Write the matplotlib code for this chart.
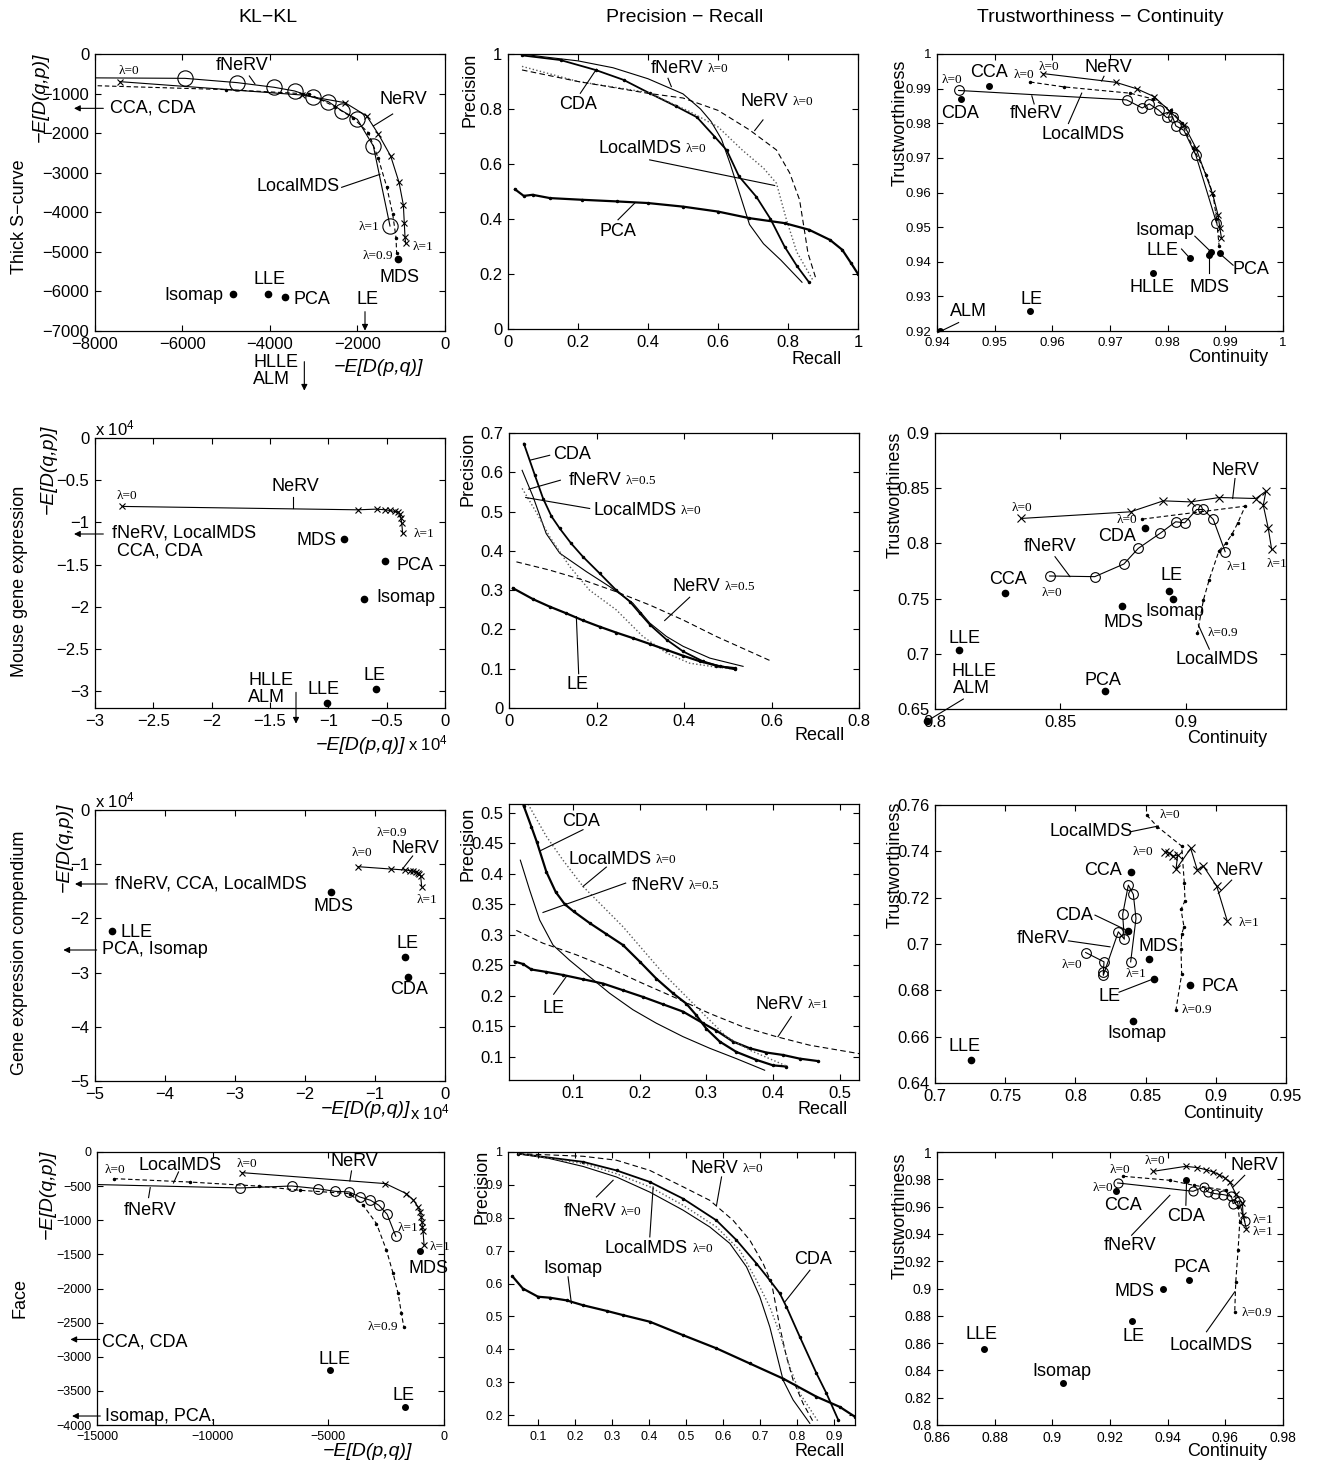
import numpy as np
import matplotlib.pyplot as plt

SANS = ['Liberation Sans', 'DejaVu Sans']
SERIF = ['Liberation Serif', 'DejaVu Serif']
plt.rcParams['font.family'] = SANS
plt.rcParams['mathtext.fontset'] = 'custom'
plt.rcParams['mathtext.rm'] = 'Liberation Sans'
plt.rcParams['mathtext.it'] = 'Liberation Sans:italic'

# ------------------------------------------------------------
# Thick S-curve
# ------------------------------------------------------------
# KL-KL: x = -E[D(p,q)], y = -E[D(q,p)]
s_kl_fnerv_x = [-8600, -5943, -4747, -3901, -3436, -3010, -2667, -2362, -2004, -1638, -1257]
s_kl_fnerv_y = [-600, -615, -724, -842, -935, -1095, -1205, -1432, -1651, -2325, -4347]
s_kl_nerv_x = [-7429, -3276, -2286, -1790, -1524, -1242, -1051, -952, -930, -914, -899]
s_kl_nerv_y = [-699, -1036, -1230, -1567, -2022, -2578, -3243, -3816, -4279, -4633, -4785]
s_kl_lmds_x = [-8600, -5000, -3100, -2520, -2100, -1750, -1524, -1333, -1196, -1120, -1105]
s_kl_lmds_y = [-780, -900, -1010, -1330, -1620, -1990, -2640, -3350, -4040, -4640, -5040]
s_kl_dot_x = [-4838, -4053, -3657, -1067]          # Isomap, LLE, PCA, MDS
s_kl_dot_y = [-6065, -6065, -6150, -5189]

# precision - recall
s_pr_fnerv_r = [0.04, 0.1, 0.2, 0.3, 0.4, 0.5, 0.55, 0.58, 0.61, 0.635, 0.66, 0.69, 0.73, 0.78, 0.84]
s_pr_fnerv_p = [1.0, 0.99, 0.975, 0.95, 0.91, 0.855, 0.80, 0.755, 0.69, 0.6, 0.5, 0.38, 0.31, 0.25, 0.17]
s_pr_cda_r = [0.04, 0.15, 0.25, 0.33, 0.405, 0.48, 0.54, 0.59, 0.625, 0.66, 0.71, 0.75, 0.79, 0.825, 0.86]
s_pr_cda_p = [0.995, 0.978, 0.942, 0.906, 0.857, 0.81, 0.77, 0.70, 0.65, 0.555, 0.48, 0.40, 0.30, 0.23, 0.17]
s_pr_lmds_r = [0.04, 0.2, 0.3, 0.4, 0.52, 0.6, 0.67, 0.73, 0.767, 0.795, 0.825, 0.87]
s_pr_lmds_p = [0.955, 0.9, 0.88, 0.86, 0.79, 0.735, 0.65, 0.585, 0.53, 0.40, 0.28, 0.18]
s_pr_nerv_r = [0.04, 0.2, 0.4, 0.5, 0.6, 0.69, 0.767, 0.805, 0.833, 0.848, 0.857, 0.88]
s_pr_nerv_p = [0.942, 0.9, 0.857, 0.84, 0.795, 0.724, 0.651, 0.567, 0.47, 0.35, 0.276, 0.182]
s_pr_pca_r = [0.02, 0.045, 0.07, 0.12, 0.21, 0.31, 0.4, 0.5, 0.6, 0.69, 0.79, 0.86, 0.92, 0.955, 0.98, 1.0]
s_pr_pca_p = [0.508, 0.484, 0.488, 0.476, 0.47, 0.464, 0.458, 0.445, 0.427, 0.403, 0.385, 0.361, 0.324, 0.288, 0.24, 0.2]

# trustworthiness - continuity
s_tc_fnerv_c = [0.94375, 0.97289, 0.97560, 0.97681, 0.97842, 0.97981, 0.98085, 0.98142, 0.98281, 0.98489, 0.98846]
s_tc_fnerv_t = [0.98947, 0.98674, 0.98441, 0.98558, 0.98382, 0.98168, 0.98187, 0.97924, 0.97797, 0.97076, 0.95127]
s_tc_nerv_c = [0.95835, 0.97104, 0.97462, 0.97762, 0.98027, 0.98281, 0.98489, 0.98777, 0.98875, 0.98904, 0.98933]
s_tc_nerv_t = [0.99435, 0.99181, 0.98996, 0.98772, 0.98363, 0.97953, 0.97290, 0.95975, 0.95341, 0.94981, 0.94688]
s_tc_lmds_c = [0.95615, 0.962, 0.97346, 0.9775, 0.9805, 0.98241, 0.98442, 0.98673, 0.98789, 0.98846, 0.98892]
s_tc_lmds_t = [0.99191, 0.9905, 0.98869, 0.9870, 0.9838, 0.98021, 0.97290, 0.96511, 0.95926, 0.95244, 0.94464]
# CCA, CDA, LLE, HLLE, LE, ALM, Isomap, MDS, PCA
s_tc_dot_c = [0.94894, 0.94415, 0.98385, 0.97739, 0.95615, 0.94058, 0.98760, 0.98719, 0.98904]
s_tc_dot_t = [0.99074, 0.98704, 0.94094, 0.93684, 0.92583, 0.9200, 0.94269, 0.94191, 0.94240]

# ------------------------------------------------------------
# Mouse gene expression (KL values in units of 1e4)
# ------------------------------------------------------------
m_kl_nerv_x = [-2.766, -0.749, -0.586, -0.514, -0.471, -0.429, -0.40, -0.386, -0.377, -0.371, -0.363]
m_kl_nerv_y = [-0.811, -0.851, -0.843, -0.851, -0.859, -0.871, -0.879, -0.902, -0.95, -1.009, -1.128]
m_kl_dot_x = [-0.863, -0.514, -0.694, -0.594, -1.009]     # MDS, PCA, Isomap, LE, LLE
m_kl_dot_y = [-1.195, -1.456, -1.907, -2.98, -3.146]

m_pr_cda_r = [0.034, 0.059, 0.078, 0.097, 0.116, 0.142, 0.169, 0.207, 0.245, 0.276, 0.299, 0.322, 0.36, 0.398, 0.443, 0.482, 0.516]
m_pr_cda_p = [0.673, 0.593, 0.533, 0.488, 0.457, 0.419, 0.385, 0.343, 0.30, 0.271, 0.241, 0.212, 0.174, 0.144, 0.119, 0.106, 0.102]
m_pr_fnerv_r = [0.03, 0.055, 0.085, 0.116, 0.177, 0.23, 0.283, 0.322, 0.36, 0.398, 0.459, 0.535]
m_pr_fnerv_p = [0.605, 0.538, 0.444, 0.394, 0.347, 0.309, 0.267, 0.216, 0.182, 0.157, 0.127, 0.106]
m_pr_lmds_r = [0.03, 0.062, 0.093, 0.139, 0.184, 0.245, 0.306, 0.36, 0.413, 0.474, 0.516]
m_pr_lmds_p = [0.559, 0.499, 0.436, 0.36, 0.30, 0.25, 0.182, 0.14, 0.114, 0.104, 0.099]
m_pr_nerv_r = [0.017, 0.093, 0.169, 0.245, 0.322, 0.398, 0.474, 0.55, 0.596]
m_pr_nerv_p = [0.372, 0.351, 0.326, 0.296, 0.262, 0.224, 0.182, 0.144, 0.121]
m_pr_le_r = [0.009, 0.055, 0.093, 0.131, 0.169, 0.207, 0.245, 0.283, 0.322, 0.36, 0.398, 0.436, 0.474, 0.516]
m_pr_le_p = [0.305, 0.277, 0.258, 0.241, 0.223, 0.207, 0.192, 0.178, 0.163, 0.148, 0.133, 0.119, 0.108, 0.099]

m_tc_nerv_c = [0.83427, 0.878, 0.89107, 0.902, 0.91333, 0.928, 0.932, 0.93093, 0.93293, 0.93427]
m_tc_nerv_t = [0.82259, 0.82861, 0.83855, 0.8376, 0.84157, 0.84066, 0.84729, 0.83464, 0.81355, 0.79458]
m_tc_fnerv_c = [0.84573, 0.86373, 0.87533, 0.88107, 0.88973, 0.896, 0.8996, 0.9044, 0.90707, 0.911, 0.91573]
m_tc_fnerv_t = [0.77048, 0.76988, 0.78133, 0.79548, 0.80904, 0.81958, 0.81867, 0.83072, 0.83072, 0.82169, 0.79247]
m_tc_lmds_c = [0.88267, 0.92373, 0.92067, 0.9185, 0.916, 0.9133, 0.90933, 0.90707, 0.90467]
m_tc_lmds_t = [0.82199, 0.83373, 0.81807, 0.8085, 0.80, 0.7935, 0.76687, 0.7488, 0.71867]
# CDA, CCA, LE, Isomap, MDS, LLE, PCA, HLLE/ALM
m_tc_dot_c = [0.8836, 0.828, 0.89333, 0.89507, 0.87467, 0.8096, 0.868, 0.7967]
m_tc_dot_t = [0.81416, 0.75482, 0.75723, 0.7497, 0.74337, 0.703, 0.66596, 0.6389]

# ------------------------------------------------------------
# Gene expression compendium (KL values in units of 1e4)
# ------------------------------------------------------------
c_kl_nerv_x = [-1.238, -0.776, -0.571, -0.5, -0.452, -0.414, -0.39, -0.367, -0.348, -0.333]
c_kl_nerv_y = [-1.046, -1.089, -1.107, -1.119, -1.132, -1.15, -1.168, -1.187, -1.218, -1.415]
c_kl_dot_x = [-1.633, -4.762, -0.571, -0.524]     # MDS, LLE, LE, CDA
c_kl_dot_y = [-1.519, -2.226, -2.718, -3.075]

c_pr_cda_r = [0.026, 0.0375, 0.046, 0.06, 0.074, 0.0875, 0.101, 0.125, 0.15, 0.175, 0.2, 0.225, 0.25, 0.27, 0.285, 0.3, 0.32, 0.345, 0.375, 0.4, 0.42]
c_pr_cda_p = [0.511, 0.477, 0.451, 0.403, 0.37, 0.35, 0.338, 0.319, 0.301, 0.283, 0.256, 0.228, 0.204, 0.187, 0.168, 0.146, 0.125, 0.108, 0.095, 0.086, 0.084]
c_pr_le_r = [0.0125, 0.025, 0.0375, 0.06, 0.085, 0.115, 0.145, 0.175, 0.205, 0.235, 0.265, 0.295, 0.315, 0.34, 0.365, 0.39, 0.415, 0.44, 0.4675]
c_pr_le_p = [0.256, 0.252, 0.243, 0.239, 0.234, 0.227, 0.22, 0.209, 0.198, 0.186, 0.174, 0.155, 0.143, 0.125, 0.114, 0.107, 0.103, 0.097, 0.093]
c_pr_fnerv_r = [0.021, 0.035, 0.05, 0.07, 0.095, 0.125, 0.155, 0.19, 0.225, 0.265, 0.305, 0.345, 0.3875]
c_pr_fnerv_p = [0.422, 0.373, 0.324, 0.283, 0.258, 0.231, 0.204, 0.177, 0.155, 0.133, 0.114, 0.097, 0.078]
c_pr_lmds_r = [0.025, 0.0325, 0.06, 0.085, 0.115, 0.145, 0.175, 0.205, 0.235, 0.265, 0.295, 0.33, 0.365, 0.42]
c_pr_lmds_p = [0.53, 0.514, 0.461, 0.422, 0.379, 0.346, 0.313, 0.275, 0.237, 0.204, 0.171, 0.133, 0.111, 0.085]
c_pr_nerv_r = [0.015, 0.055, 0.105, 0.155, 0.205, 0.255, 0.305, 0.355, 0.405, 0.455, 0.53]
c_pr_nerv_p = [0.307, 0.286, 0.267, 0.245, 0.22, 0.196, 0.171, 0.149, 0.133, 0.119, 0.105]

c_tc_nerv_c = [0.86382, 0.8669, 0.86975, 0.87284, 0.87165, 0.8821, 0.88685, 0.89112, 0.90062, 0.90821]
c_tc_nerv_t = [0.73983, 0.73911, 0.73796, 0.73839, 0.7322, 0.74127, 0.73191, 0.73364, 0.7250, 0.70987]
c_tc_fnerv_c = [0.80731, 0.82037, 0.8199, 0.8199, 0.83058, 0.83485, 0.83366, 0.8377, 0.84126, 0.84316, 0.83936]
c_tc_fnerv_t = [0.69633, 0.6923, 0.68797, 0.68653, 0.70526, 0.70209, 0.71275, 0.72543, 0.72139, 0.71102, 0.6923]
c_tc_lmds_c = [0.85076, 0.8583, 0.87569, 0.87759, 0.87806, 0.87521, 0.87735, 0.87569, 0.87521, 0.87569, 0.87165]
c_tc_lmds_t = [0.75568, 0.7507, 0.74228, 0.72615, 0.71866, 0.71491, 0.70742, 0.70425, 0.69763, 0.68697, 0.6717]
# CCA, CDA, MDS, LE, PCA, Isomap, LLE
c_tc_dot_c = [0.83936, 0.8377, 0.85266, 0.856, 0.88162, 0.84079, 0.7254]
c_tc_dot_t = [0.73119, 0.70569, 0.69331, 0.68509, 0.68221, 0.66665, 0.65009]

# ------------------------------------------------------------
# Face
# ------------------------------------------------------------
f_kl_nerv_x = [-8744, -2531, -1625, -1337, -1121, -1020, -977, -949, -934, -906, -862]
f_kl_nerv_y = [-302, -463, -610, -698, -805, -878, -951, -1024, -1098, -1156, -1366]
f_kl_fnerv_x = [-15500, -8815, -6586, -5464, -4716, -4098, -3638, -3178, -2818, -2459, -2085]
f_kl_fnerv_y = [-473, -527, -498, -537, -576, -585, -659, -707, -780, -912, -1234]
f_kl_lmds_x = [-14281, -11000, -8000, -6227, -4069, -3494, -2919, -2487, -2200, -1984, -1840, -1739]
f_kl_lmds_y = [-390, -440, -500, -561, -610, -780, -1049, -1439, -1780, -2073, -2366, -2561]
f_kl_dot_x = [-1049, -4932, -1696]      # MDS, LLE, LE
f_kl_dot_y = [-1454, -3195, -3732]

f_pr_nerv_r = [0.046, 0.222, 0.312, 0.402, 0.492, 0.564, 0.627, 0.672, 0.708, 0.731, 0.753, 0.771, 0.789, 0.816, 0.843]
f_pr_nerv_p = [0.995, 0.987, 0.975, 0.944, 0.894, 0.853, 0.792, 0.732, 0.661, 0.60, 0.468, 0.377, 0.306, 0.235, 0.18]
f_pr_cda_r = [0.046, 0.222, 0.312, 0.402, 0.492, 0.582, 0.636, 0.69, 0.726, 0.753, 0.771, 0.807, 0.852, 0.879, 0.911]
f_pr_cda_p = [0.995, 0.97, 0.944, 0.909, 0.858, 0.792, 0.732, 0.661, 0.61, 0.57, 0.529, 0.438, 0.327, 0.266, 0.185]
f_pr_fnerv_r = [0.046, 0.132, 0.222, 0.312, 0.402, 0.492, 0.564, 0.618, 0.663, 0.699, 0.726, 0.744, 0.762, 0.789, 0.834]
f_pr_fnerv_p = [0.995, 0.98, 0.956, 0.924, 0.878, 0.823, 0.772, 0.722, 0.651, 0.56, 0.468, 0.387, 0.306, 0.246, 0.175]
f_pr_lmds_r = [0.046, 0.222, 0.312, 0.402, 0.492, 0.582, 0.645, 0.69, 0.726, 0.753, 0.78, 0.807, 0.857]
f_pr_lmds_p = [0.995, 0.965, 0.934, 0.894, 0.838, 0.772, 0.701, 0.61, 0.529, 0.448, 0.347, 0.266, 0.18]
f_pr_iso_r = [0.031, 0.059, 0.1, 0.132, 0.177, 0.222, 0.285, 0.33, 0.402, 0.492, 0.582, 0.672, 0.762, 0.852, 0.915, 0.956]
f_pr_iso_p = [0.622, 0.585, 0.56, 0.557, 0.549, 0.534, 0.517, 0.504, 0.484, 0.443, 0.403, 0.357, 0.311, 0.256, 0.225, 0.195]

f_tc_nerv_c = [0.935, 0.9463, 0.95034, 0.95323, 0.95577, 0.95784, 0.9598, 0.96154, 0.96361, 0.96592, 0.96615, 0.9673]
f_tc_nerv_t = [0.98585, 0.98951, 0.98854, 0.98707, 0.98537, 0.98341, 0.98098, 0.97805, 0.96951, 0.96268, 0.95366, 0.9439]
f_tc_fnerv_c = [0.92265, 0.94884, 0.95253, 0.95403, 0.95634, 0.95923, 0.96211, 0.96269, 0.96477, 0.96673]
f_tc_fnerv_t = [0.97732, 0.97122, 0.97439, 0.97073, 0.96951, 0.96878, 0.96756, 0.9622, 0.96415, 0.94927]
f_tc_lmds_c = [0.92461, 0.94077, 0.949, 0.96038, 0.96442, 0.965, 0.96442, 0.96361, 0.96326]
f_tc_lmds_t = [0.9822, 0.97927, 0.97561, 0.97195, 0.95976, 0.94878, 0.92805, 0.90488, 0.88293]
# CCA, CDA, PCA, MDS, LE, LLE, Isomap
f_tc_dot_c = [0.92207, 0.94653, 0.94746, 0.93823, 0.9275, 0.87615, 0.90361]
f_tc_dot_t = [0.97146, 0.97976, 0.90659, 0.89927, 0.8761, 0.85537, 0.83098]

# ------------------------------------------------------------
# Figure helpers
# ------------------------------------------------------------
W, H = 1320, 1461
fig = plt.figure(figsize=(W / 100, H / 100), dpi=100)


def fig_text(x, y, s, **kw):
    fig.text(x / W, 1 - y / H, s, **kw)


def fmt(v):
    return ('%g' % round(float(v), 6)).replace('-', '\u2212')


def panel(box, zoom, xlim, ylim, xticks, yticks, tick_size=12):
    l, r, t, b = box
    ax = fig.add_axes([l / W, 1 - b / H, (r - l) / W, (b - t) / H])
    ax.set_xlim(xlim)
    ax.set_ylim(ylim)
    ax.set_xticks(list(xticks))
    ax.set_xticklabels([fmt(v) for v in xticks])
    ax.set_yticks(list(yticks))
    ax.set_yticklabels([fmt(v) for v in yticks])
    ax.tick_params(direction='in', top=True, right=True, length=4, width=0.8,
                   labelsize=tick_size, pad=4)
    for sp in ax.spines.values():
        sp.set_linewidth(0.9)
    ax.zoom = zoom          # reference box used to place annotations
    return ax


def at(ax, zx, zy):
    L, R, T, B = ax.zoom
    return (zx - L) / (R - L), (B - zy) / (B - T)


def word(ax, s, zx, zy, size=13, ha='center', **kw):
    x, y = at(ax, zx, zy)
    return ax.text(x, y, s, transform=ax.transAxes, ha=ha, va='center',
                   fontsize=size, **kw)


def lam(ax, s, zx, zy):
    return word(ax, s, zx, zy, size=9.5, family=SERIF)


def tag(ax, name, lam_s, zx, zy):
    t = word(ax, name, zx, zy)
    ax.annotate(lam_s, xy=(1, 0.12), xycoords=t, xytext=(3, 0),
                textcoords='offset points', ha='left', va='bottom',
                fontsize=9.5, family=SERIF)


def leader(ax, zx0, zy0, zx1, zy1):
    x0, y0 = at(ax, zx0, zy0)
    x1, y1 = at(ax, zx1, zy1)
    ax.plot([x0, x1], [y0, y1], transform=ax.transAxes, color='k', lw=0.8,
            clip_on=False)


def arrow(ax, zx0, zy0, zx1, zy1):
    ax.annotate('', xy=at(ax, zx1, zy1), xycoords='axes fraction',
                xytext=at(ax, zx0, zy0), textcoords='axes fraction',
                arrowprops=dict(arrowstyle='-|>', color='k', lw=0.8,
                                mutation_scale=9, shrinkA=0, shrinkB=0),
                annotation_clip=False)


def nerv(ax, x, y, ms=5):
    ax.plot(x, y, '-', color='k', lw=0.8, marker='x', ms=ms, mew=0.8)


def fnerv(ax, x, y, ms=8):
    ax.plot(x, y, '-', color='k', lw=0.8, marker='o', ms=ms, mfc='none', mew=0.8)


def lmds(ax, x, y):
    ax.plot(x, y, '--', color='k', lw=0.8, marker='.', ms=3, dashes=(4, 2.5))


def dots(ax, x, y, ms=4.5, **kw):
    ax.plot(x, y, 'o', color='k', ms=ms, ls='none', **kw)


def thick(ax, r, p, lw=1.6):
    ax.plot(r, p, '-', color='k', lw=lw, marker='.', ms=3)


def thin(ax, r, p):
    ax.plot(r, p, '-', color='k', lw=0.8)


def dotted(ax, r, p):
    ax.plot(r, p, ':', color='0.35', lw=1.0)


def dashed(ax, r, p):
    ax.plot(r, p, '--', color='k', lw=0.8, dashes=(5, 3))


# ------------------------------------------------------------
# Column titles, row labels, axis labels
# ------------------------------------------------------------
fig_text(268, 18, 'KL\u2212KL', ha='center', va='center', fontsize=14)
fig_text(685, 18, 'Precision \u2212 Recall', ha='center', va='center', fontsize=14)
fig_text(1100, 18, 'Trustworthiness \u2212 Continuity', ha='center', va='center', fontsize=14)

for y, s in [(217, 'Thick S\u2212curve'), (581, 'Mouse gene expression'),
             (953, 'Gene expression compendium'), (1298, 'Face')]:
    fig_text(20, y, s, rotation=90, ha='center', va='center', fontsize=13)

EQP = '\u2212E[D(q,p)]'
EPQ = '\u2212E[D(p,q)]'
for x, y in [(40, 53), (48, 425), (64, 803), (47, 1150)]:
    fig_text(x, y, EQP, rotation=90, ha='center', va='top', style='italic', fontsize=14)
for x, y in [(470, 53), (468, 432), (468, 807), (482, 1150)]:
    fig_text(x, y, 'Precision', rotation=90, ha='center', va='top', fontsize=13)
for x, y in [(900, 60), (895, 432), (895, 802), (900, 1153)]:
    fig_text(x, y, 'Trustworthiness', rotation=90, ha='center', va='top', fontsize=13)

fig_text(423, 368, EPQ, ha='right', va='center', style='italic', fontsize=14)
fig_text(405, 745, EPQ, ha='right', va='center', style='italic', fontsize=14)
fig_text(408, 743, 'x 10$^{4}$', ha='left', va='center', fontsize=12)
fig_text(410, 1110, EPQ, ha='right', va='center', style='italic', fontsize=14)
fig_text(410, 1112, 'x 10$^{4}$', ha='left', va='center', fontsize=12)
fig_text(412, 1452, EPQ, ha='right', va='center', style='italic', fontsize=14)
fig_text(95, 428, 'x 10$^{4}$', ha='left', va='center', fontsize=12)
fig_text(95, 800, 'x 10$^{4}$', ha='left', va='center', fontsize=12)

for x, y in [(842, 360), (845, 735), (848, 1110), (845, 1451)]:
    fig_text(x, y, 'Recall', ha='right', va='center', fontsize=13)
for x, y in [(1268, 357), (1267, 738), (1263, 1113), (1267, 1452)]:
    fig_text(x, y, 'Continuity', ha='right', va='center', fontsize=13)

# ------------------------------------------------------------
# Row 1: Thick S-curve
# ------------------------------------------------------------
ax = panel((95, 445, 54, 331), (285, 1335, 42, 873), (-8000, 0), (-7000, 0),
           range(-8000, 1, 2000), range(-7000, 1, 1000))
fnerv(ax, s_kl_fnerv_x, s_kl_fnerv_y, ms=11)
nerv(ax, s_kl_nerv_x, s_kl_nerv_y)
lmds(ax, s_kl_lmds_x, s_kl_lmds_y)
dots(ax, s_kl_dot_x, s_kl_dot_y)
word(ax, 'fNeRV', 725, 78); leader(ax, 748, 108, 765, 132)
word(ax, 'NeRV', 1210, 180); leader(ax, 1178, 222, 1120, 258)
word(ax, 'LocalMDS', 893, 440); leader(ax, 1025, 442, 1140, 403)
lam(ax, '\u03bb=0', 388, 92)
lam(ax, '\u03bb=1', 1108, 560)
lam(ax, '\u03bb=1', 1270, 622)
lam(ax, '\u03bb=0.9', 1135, 648)
word(ax, 'MDS', 1198, 712)
word(ax, 'Isomap', 582, 765)
word(ax, 'LLE', 808, 718)
word(ax, 'PCA', 937, 780)
word(ax, 'LE', 1102, 780); arrow(ax, 1095, 815, 1095, 872)
word(ax, 'CCA, CDA', 330, 205, ha='left'); arrow(ax, 310, 205, 222, 205)
word(ax, 'HLLE\nALM', 760, 992, ha='left', linespacing=1.0)
arrow(ax, 913, 965, 913, 1052)

ax = panel((508, 858, 54, 329), (175, 1225, 42, 868), (0, 1), (0, 1),
           np.linspace(0, 1, 6), np.linspace(0, 1, 6))
thin(ax, s_pr_fnerv_r, s_pr_fnerv_p)
thick(ax, s_pr_cda_r, s_pr_cda_p, lw=1.3)
dotted(ax, s_pr_lmds_r, s_pr_lmds_p)
dashed(ax, s_pr_nerv_r, s_pr_nerv_p)
thick(ax, s_pr_pca_r, s_pr_pca_p)
tag(ax, 'fNeRV', '\u03bb=0', 682, 85); leader(ax, 655, 115, 665, 140)
tag(ax, 'NeRV', '\u03bb=0', 945, 185); leader(ax, 940, 240, 915, 272)
tag(ax, 'LocalMDS', '\u03bb=0', 570, 325); leader(ax, 600, 360, 975, 437)
word(ax, 'CDA', 385, 195); leader(ax, 392, 160, 440, 88)
word(ax, 'PCA', 505, 575); leader(ax, 505, 540, 555, 490)

ax = panel((937, 1283, 54, 331), (170, 1210, 52, 873), (0.94, 1), (0.92, 1),
           np.arange(0.94, 1.0001, 0.01), np.arange(0.92, 1.0001, 0.01), tick_size=9.5)
fnerv(ax, s_tc_fnerv_c, s_tc_fnerv_t, ms=7)
nerv(ax, s_tc_nerv_c, s_tc_nerv_t, ms=4.5)
lmds(ax, s_tc_lmds_c, s_tc_lmds_t)
dots(ax, s_tc_dot_c, s_tc_dot_t, ms=4)
word(ax, 'CCA', 325, 108)
word(ax, 'CDA', 240, 228)
lam(ax, '\u03bb=0', 215, 130)
lam(ax, '\u03bb=0', 432, 115)
lam(ax, '\u03bb=0', 505, 92)
word(ax, 'NeRV', 685, 92); leader(ax, 672, 118, 665, 132)
word(ax, 'fNeRV', 468, 228); leader(ax, 462, 200, 455, 176)
word(ax, 'LocalMDS', 610, 290); leader(ax, 565, 258, 605, 168)
word(ax, 'Isomap', 855, 575); leader(ax, 945, 592, 990, 635)
word(ax, 'LLE', 848, 633); leader(ax, 905, 630, 928, 655)
word(ax, 'HLLE', 815, 743)
word(ax, 'MDS', 990, 743); leader(ax, 988, 700, 988, 650)
word(ax, 'PCA', 1115, 692); leader(ax, 1060, 678, 1025, 648)
word(ax, 'LE', 455, 780)
word(ax, 'ALM', 265, 815); leader(ax, 235, 848, 172, 878)

# ------------------------------------------------------------
# Row 2: Mouse gene expression
# ------------------------------------------------------------
ax = panel((95, 445, 438, 708), (285, 1335, 85, 895), (-3, 0), (-3.2, 0),
           np.arange(-3, 0.01, 0.5), np.arange(-3, 0.01, 0.5))
nerv(ax, m_kl_nerv_x, m_kl_nerv_y)
dots(ax, m_kl_dot_x, m_kl_dot_y)
word(ax, 'NeRV', 885, 230); leader(ax, 880, 262, 880, 296)
lam(ax, '\u03bb=0', 380, 258)
lam(ax, '\u03bb=1', 1272, 372)
word(ax, 'MDS', 950, 392)
word(ax, 'PCA', 1245, 468)
word(ax, 'Isomap', 1218, 563)
word(ax, 'LE', 1125, 798)
word(ax, 'LLE', 970, 838)
word(ax, 'HLLE\nALM', 745, 838, ha='left', linespacing=1.0)
arrow(ax, 888, 848, 888, 942)
word(ax, 'fNeRV, LocalMDS\n CCA, CDA', 335, 398, ha='left', linespacing=1.1)
arrow(ax, 310, 373, 222, 373)

ax = panel((509, 859, 433, 708), (178, 1228, 68, 895), (0, 0.8), (0, 0.7),
           np.arange(0, 0.81, 0.2), np.arange(0, 0.71, 0.1))
thick(ax, m_pr_cda_r, m_pr_cda_p, lw=1.3)
thin(ax, m_pr_fnerv_r, m_pr_fnerv_p)
dotted(ax, m_pr_lmds_r, m_pr_lmds_p)
dashed(ax, m_pr_nerv_r, m_pr_nerv_p)
thick(ax, m_pr_le_r, m_pr_le_p)
word(ax, 'CDA', 368, 132); leader(ax, 300, 135, 240, 150)
tag(ax, 'fNeRV', '\u03bb=0.5', 435, 212); leader(ax, 332, 210, 237, 237)
tag(ax, 'LocalMDS', '\u03bb=0', 555, 300); leader(ax, 420, 295, 228, 262)
tag(ax, 'NeRV', '\u03bb=0.5', 740, 530); leader(ax, 720, 562, 645, 632)
word(ax, 'LE', 385, 825); leader(ax, 387, 792, 380, 620)

ax = panel((935, 1286, 433, 709), (165, 1218, 68, 898), (0.8, 0.94), (0.65, 0.9),
           [0.8, 0.85, 0.9], np.arange(0.65, 0.901, 0.05))
nerv(ax, m_tc_nerv_c, m_tc_nerv_t, ms=6)
fnerv(ax, m_tc_fnerv_c, m_tc_fnerv_t, ms=7)
lmds(ax, m_tc_lmds_c, m_tc_lmds_t)
dots(ax, m_tc_dot_c, m_tc_dot_t, clip_on=False)
word(ax, 'NeRV', 1065, 180); leader(ax, 1065, 205, 1058, 265)
lam(ax, '\u03bb=0', 427, 295)
lam(ax, '\u03bb=0', 740, 330)
lam(ax, '\u03bb=0', 515, 550)
lam(ax, '\u03bb=1', 1072, 472)
lam(ax, '\u03bb=1', 1190, 462)
lam(ax, '\u03bb=0.9', 1028, 668)
word(ax, 'CDA', 710, 380)
word(ax, 'fNeRV', 510, 410); leader(ax, 525, 440, 570, 500)
word(ax, 'CCA', 385, 510)
word(ax, 'LE', 875, 498)
word(ax, 'Isomap', 885, 605)
word(ax, 'MDS', 730, 638)
word(ax, 'LocalMDS', 1012, 748); leader(ax, 988, 718, 955, 645)
word(ax, 'LLE', 255, 685)
word(ax, 'HLLE', 283, 785)
word(ax, 'ALM', 273, 835); leader(ax, 250, 868, 140, 935)
word(ax, 'PCA', 668, 812)

# ------------------------------------------------------------
# Row 3: Gene expression compendium
# ------------------------------------------------------------
ax = panel((95, 445, 810, 1081), (285, 1335, 90, 903), (-5, 0), (-5, 0),
           range(-5, 1), range(-5, 1))
nerv(ax, c_kl_nerv_x, c_kl_nerv_y)
dots(ax, c_kl_dot_x, c_kl_dot_y)
word(ax, 'NeRV', 1245, 205); leader(ax, 1238, 228, 1205, 270)
lam(ax, '\u03bb=0', 1085, 220)
lam(ax, '\u03bb=1', 1282, 360)
lam(ax, '\u03bb=0.9', 1175, 160)
word(ax, 'MDS', 1000, 380)
word(ax, 'LLE', 410, 458)
word(ax, 'LE', 1222, 490)
word(ax, 'CDA', 1228, 630)
word(ax, 'fNeRV, CCA, LocalMDS', 345, 312, ha='left'); arrow(ax, 322, 312, 225, 312)
word(ax, 'PCA, Isomap', 305, 510, ha='left'); arrow(ax, 290, 510, 190, 510)

ax = panel((509, 859, 804, 1080), (178, 1228, 73, 900), (0.004, 0.529), (0.062, 0.514),
           np.arange(0.1, 0.51, 0.1), np.arange(0.1, 0.51, 0.05))
thick(ax, c_pr_cda_r, c_pr_cda_p)
thick(ax, c_pr_le_r, c_pr_le_p)
thin(ax, c_pr_fnerv_r, c_pr_fnerv_p)
dotted(ax, c_pr_lmds_r, c_pr_lmds_p)
dashed(ax, c_pr_nerv_r, c_pr_nerv_p)
word(ax, 'CDA', 395, 125); leader(ax, 400, 150, 272, 213)
tag(ax, 'LocalMDS', '\u03bb=0', 480, 238); leader(ax, 470, 262, 400, 320)
tag(ax, 'fNeRV', '\u03bb=0.5', 625, 318); leader(ax, 528, 310, 280, 398)
word(ax, 'LE', 312, 685); leader(ax, 312, 643, 350, 590)
tag(ax, 'NeRV', '\u03bb=1', 990, 675); leader(ax, 1025, 710, 985, 770)

ax = panel((935, 1286, 805, 1083), (165, 1218, 75, 908), (0.7, 0.95), (0.64, 0.76),
           np.arange(0.7, 0.951, 0.05), np.arange(0.64, 0.761, 0.02))
nerv(ax, c_tc_nerv_c, c_tc_nerv_t, ms=6)
fnerv(ax, c_tc_fnerv_c, c_tc_fnerv_t, ms=7)
lmds(ax, c_tc_lmds_c, c_tc_lmds_t)
dots(ax, c_tc_dot_c, c_tc_dot_t)
word(ax, 'LocalMDS', 633, 155); leader(ax, 752, 155, 835, 138)
lam(ax, '\u03bb=0', 870, 105)
lam(ax, '\u03bb=0', 790, 215)
lam(ax, '\u03bb=1', 1108, 428)
lam(ax, '\u03bb=0', 575, 555)
lam(ax, '\u03bb=1', 768, 582)
lam(ax, '\u03bb=0.9', 950, 690)
word(ax, 'NeRV', 1078, 270); leader(ax, 1055, 300, 1015, 340)
word(ax, 'CCA', 668, 270)
word(ax, 'CDA', 583, 405); leader(ax, 645, 405, 735, 448)
word(ax, 'fNeRV', 490, 475); leader(ax, 565, 482, 690, 500)
word(ax, 'MDS', 835, 500)
word(ax, 'LE', 688, 648); leader(ax, 717, 636, 815, 598)
word(ax, 'PCA', 1020, 620)
word(ax, 'Isomap', 770, 760)
word(ax, 'LLE', 255, 800)

# ------------------------------------------------------------
# Row 4: Face
# ------------------------------------------------------------
ax = panel((97, 444, 1152, 1425), (290, 1333, 35, 855), (-15000, 0), (-4000, 0),
           [-15000, -10000, -5000, 0], range(-4000, 1, 500), tick_size=9)
nerv(ax, f_kl_nerv_x, f_kl_nerv_y, ms=4.5)
fnerv(ax, f_kl_fnerv_x, f_kl_fnerv_y, ms=7)
lmds(ax, f_kl_lmds_x, f_kl_lmds_y)
dots(ax, f_kl_dot_x, f_kl_dot_y, ms=4)
word(ax, 'NeRV', 1065, 65); leader(ax, 1055, 92, 1050, 122)
lam(ax, '\u03bb=0', 740, 70)
lam(ax, '\u03bb=0', 345, 88)
word(ax, 'LocalMDS', 540, 75); leader(ax, 535, 95, 520, 128)
word(ax, 'fNeRV', 450, 210); leader(ax, 445, 172, 450, 142)
lam(ax, '\u03bb=1', 1225, 262)
lam(ax, '\u03bb=1', 1320, 320)
word(ax, 'MDS', 1285, 385)
lam(ax, '\u03bb=0.9', 1150, 560)
word(ax, 'LLE', 1005, 658)
word(ax, 'LE', 1212, 765)
word(ax, 'CCA, CDA', 305, 605, ha='left'); arrow(ax, 298, 598, 210, 598)
word(ax, 'Isomap, PCA,', 315, 830, ha='left'); arrow(ax, 300, 828, 215, 828)

ax = panel((508, 855, 1152, 1425), (175, 1215, 35, 855), (0.019, 0.956), (0.17, 1.0),
           np.arange(0.1, 0.91, 0.1), np.arange(0.2, 1.01, 0.1), tick_size=9)
dashed(ax, f_pr_nerv_r, f_pr_nerv_p)
thick(ax, f_pr_cda_r, f_pr_cda_p, lw=1.3)
thin(ax, f_pr_fnerv_r, f_pr_fnerv_p)
dotted(ax, f_pr_lmds_r, f_pr_lmds_p)
thick(ax, f_pr_iso_r, f_pr_iso_p)
tag(ax, 'NeRV', '\u03bb=0', 795, 85); leader(ax, 815, 110, 800, 195)
tag(ax, 'fNeRV', '\u03bb=0', 420, 215); leader(ax, 440, 170, 490, 120)
tag(ax, 'LocalMDS', '\u03bb=0', 590, 325); leader(ax, 600, 290, 610, 140)
word(ax, 'CDA', 1090, 358); leader(ax, 1080, 390, 1005, 485)
word(ax, 'Isomap', 368, 385); leader(ax, 355, 410, 365, 490)

ax = panel((937, 1283, 1152, 1425), (170, 1210, 35, 855), (0.86, 0.98), (0.8, 1.0),
           np.arange(0.86, 0.981, 0.02), np.arange(0.8, 1.001, 0.02), tick_size=10)
nerv(ax, f_tc_nerv_c, f_tc_nerv_t, ms=4)
fnerv(ax, f_tc_fnerv_c, f_tc_fnerv_t, ms=6.5)
lmds(ax, f_tc_lmds_c, f_tc_lmds_t)
dots(ax, f_tc_dot_c, f_tc_dot_t, ms=4)
lam(ax, '\u03bb=0', 825, 62)
lam(ax, '\u03bb=0', 720, 88)
lam(ax, '\u03bb=0', 670, 142)
word(ax, 'NeRV', 1125, 75); leader(ax, 1095, 105, 1060, 140)
word(ax, 'CCA', 728, 195)
word(ax, 'CDA', 918, 228); leader(ax, 918, 195, 920, 125)
word(ax, 'fNeRV', 750, 315); leader(ax, 755, 285, 870, 165)
lam(ax, '\u03bb=1', 1150, 240)
lam(ax, '\u03bb=1', 1150, 275)
word(ax, 'PCA', 935, 382)
word(ax, 'MDS', 765, 455)
word(ax, 'LE', 762, 590)
word(ax, 'LocalMDS', 995, 615); leader(ax, 980, 575, 1065, 455)
lam(ax, '\u03bb=0.9', 1130, 518)
word(ax, 'LLE', 305, 583)
word(ax, 'Isomap', 545, 693)

fig.savefig('out.png', dpi=100)
